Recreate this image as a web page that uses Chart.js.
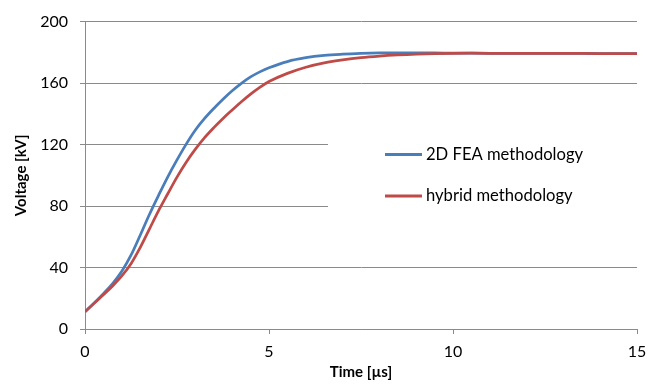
<!DOCTYPE html>
<html>
<head>
<meta charset="utf-8">
<script src="https://cdn.jsdelivr.net/npm/chart.js@4/dist/chart.umd.min.js"></script>
<style>
  html, body { margin: 0; padding: 0; background: #fff; }
  #wrap { width: 662px; height: 388px; }
</style>
</head>
<body>
<div id="wrap"><canvas id="c" width="662" height="388"></canvas></div>
<script>
// Time [µs]
const times = [0, 0.25, 0.5, 0.75, 1.0, 1.25, 1.5, 1.75, 2.0, 2.25, 2.5, 2.75, 3.0, 3.25, 3.5, 3.75, 4.0, 4.25, 4.5, 4.75, 5.0, 5.5, 6.0, 6.5, 7.0, 7.5, 8.0, 8.5, 9.0, 9.5, 10, 11, 12, 13, 14, 15];
// 2D FEA methodology [kV]
const feaValues = [11.2, 17, 23, 29.5, 37.5, 48, 61, 74.5, 87, 99, 110, 120.3, 129.5, 137, 143.5, 149.5, 155, 159.8, 164, 167.3, 170, 174, 176.5, 178, 178.8, 179.3, 179.6, 179.7, 179.7, 179.6, 179.5, 179.4, 179.3, 179.3, 179.2, 179.2];
// hybrid methodology [kV]
const hybridValues = [11.2, 16.8, 22.3, 28, 34.5, 42.5, 53, 65, 77, 88, 98.8, 108.5, 117, 124.5, 131, 137, 142.5, 147.8, 152.8, 157.2, 161, 166.3, 170.3, 173.1, 175.1, 176.6, 177.6, 178.3, 178.8, 179.2, 179.4, 179.4, 179.3, 179.3, 179.2, 179.2];
const seriesNames = ['2D FEA methodology', 'hybrid methodology'];
const xTickValues = [0, 5, 10, 15];
const yTickValues = [0, 40, 80, 120, 160, 200];

const FONT = 'Lato, "Open Sans", sans-serif';
const GRID = '#8a8a8a';

const toPoints = (vals) => times.map((t, i) => ({ x: t, y: vals[i] }));

const legendPlugin = {
  id: 'boxLegend',
  afterDatasetsDraw(chart) {
    const ctx = chart.ctx;
    ctx.save();
    ctx.fillStyle = '#fff';
    ctx.fillRect(328, 108, 310, 124);
    const items = chart.data.datasets;
    const ys = [154.5, 196];
    items.forEach((ds, i) => {
      ctx.strokeStyle = ds.borderColor;
      ctx.lineWidth = 3;
      ctx.beginPath();
      ctx.moveTo(385, ys[i]);
      ctx.lineTo(422, ys[i]);
      ctx.stroke();
      ctx.fillStyle = '#000';
      ctx.font = '16.6px ' + FONT;
      ctx.textBaseline = 'middle';
      ctx.textAlign = 'left';
      ctx.fillText(ds.label, 426, ys[i]);
    });
    ctx.restore();
  }
};

new Chart(document.getElementById('c'), {
  type: 'line',
  data: {
    datasets: [
      { label: seriesNames[0], data: toPoints(feaValues), borderColor: '#4A7EBB', borderWidth: 2.75, pointRadius: 0, tension: 0.35, fill: false, order: 1 },
      { label: seriesNames[1], data: toPoints(hybridValues), borderColor: '#BE4B48', borderWidth: 2.75, pointRadius: 0, tension: 0.35, fill: false, order: 0 }
    ]
  },
  options: {
    responsive: false,
    animation: false,
    devicePixelRatio: 1,
    layout: { padding: { top: 15, right: 25, left: 0, bottom: 0 } },
    plugins: { legend: { display: false }, tooltip: { enabled: false } },
    scales: {
      x: {
        type: 'linear',
        min: 0, max: 15,
        afterBuildTicks: (s) => { s.ticks = xTickValues.map(v => ({ value: v })); },
        afterFit: (s) => { s.height = 59; },
        grid: { drawOnChartArea: false, drawTicks: true, tickLength: 5, color: GRID },
        border: { display: true, color: GRID, width: 1 },
        ticks: { color: '#000', font: { family: FONT, size: 16 }, padding: 8, maxRotation: 0 },
        title: { display: true, text: 'Time [µs]', color: '#000', font: { family: FONT, size: 15, weight: 'bold' }, padding: { top: 0, bottom: 7 } }
      },
      y: {
        min: 0, max: 200,
        afterBuildTicks: (s) => { s.ticks = yTickValues.map(v => ({ value: v })); },
        afterFit: (s) => { s.width = 85; },
        grid: { drawOnChartArea: true, drawTicks: true, tickLength: 5, color: GRID },
        border: { display: true, color: GRID, width: 1 },
        ticks: { color: '#000', font: { family: FONT, size: 16 }, padding: 12 },
        title: { display: true, text: 'Voltage [kV]', color: '#000', font: { family: FONT, size: 15, weight: 'bold' }, padding: { top: 12, bottom: 0 } }
      }
    }
  },
  plugins: [legendPlugin]
});
</script>
</body>
</html>
